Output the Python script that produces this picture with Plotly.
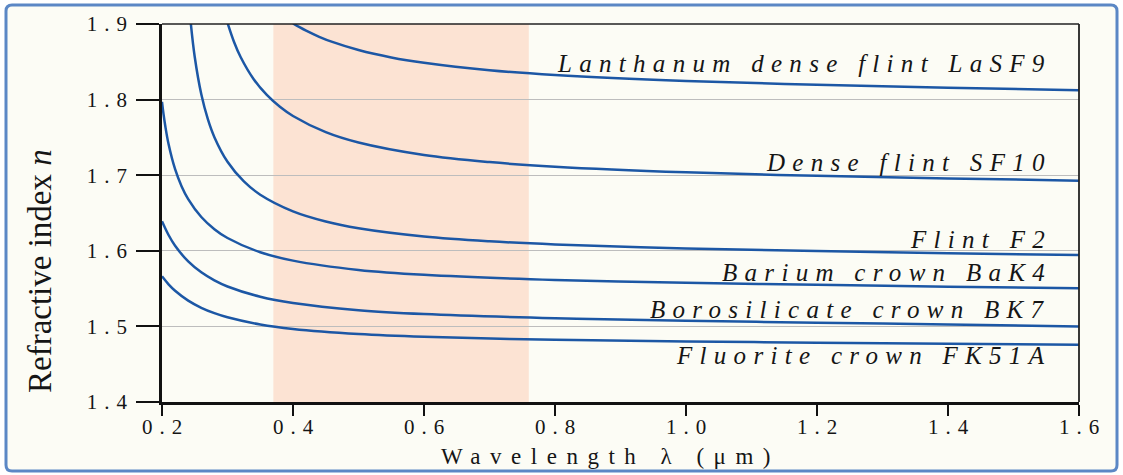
import plotly.graph_objects as go

# ---------------- data ----------------
glass_names = ["Lanthanum dense flint LaSF9", "Dense flint SF10", "Flint F2",
               "Barium crown BaK4", "Borosilicate crown BK7", "Fluorite crown FK51A"]

wl_lasf9 = [0.40, 0.41, 0.42, 0.44, 0.46, 0.50, 0.55, 0.60, 0.70, 0.80, 1.00, 1.20, 1.40, 1.60]
n_lasf9 = [1.9009, 1.8958, 1.8912, 1.8831, 1.8763, 1.8656, 1.8558, 1.8487, 1.8388, 1.8325,
           1.8246, 1.8196, 1.8158, 1.8125]

wl_sf10 = [0.30, 0.31, 0.32, 0.34, 0.36, 0.38, 0.40, 0.45, 0.50, 0.60, 0.70, 0.80, 1.00, 1.20, 1.40, 1.60]
n_sf10 = [1.9016, 1.8762, 1.8563, 1.8269, 1.8061, 1.7905, 1.7783, 1.7569, 1.7432, 1.7267,
          1.7173, 1.7112, 1.7038, 1.6992, 1.6958, 1.6928]

wl_f2 = [0.244, 0.25, 0.26, 0.27, 0.28, 0.30, 0.325, 0.35, 0.40, 0.45, 0.50, 0.60, 0.70, 0.80,
         1.00, 1.20, 1.40, 1.60]
n_f2 = [1.9006, 1.8563, 1.8070, 1.7741, 1.7503, 1.7177, 1.6917, 1.6742, 1.6522, 1.6388,
        1.6299, 1.6190, 1.6126, 1.6084, 1.6031, 1.5996, 1.5968, 1.5943]

wl_bak4 = [0.20, 0.2025, 0.205, 0.21, 0.22, 0.23, 0.24, 0.26, 0.28, 0.30, 0.35, 0.40, 0.50,
           0.60, 0.80, 1.00, 1.20, 1.40, 1.60]
n_bak4 = [1.7971, 1.7797, 1.7650, 1.7413, 1.7080, 1.6852, 1.6684, 1.6447, 1.6286, 1.6169,
          1.5981, 1.5870, 1.5747, 1.5682, 1.5615, 1.5578, 1.5550, 1.5526, 1.5503]

wl_bk7 = [0.20, 0.21, 0.22, 0.24, 0.26, 0.28, 0.30, 0.35, 0.40, 0.50, 0.60, 0.80, 1.00, 1.20, 1.40, 1.60]
n_bk7 = [1.6391, 1.6209, 1.6067, 1.5859, 1.5715, 1.5609, 1.5528, 1.5392, 1.5309, 1.5214,
         1.5163, 1.5108, 1.5075, 1.5049, 1.5025, 1.5000]

wl_fk51a = [0.20, 0.21, 0.22, 0.24, 0.26, 0.28, 0.30, 0.35, 0.40, 0.50, 0.60, 0.80, 1.00, 1.20, 1.40, 1.60]
n_fk51a = [1.5663, 1.5557, 1.5472, 1.5341, 1.5246, 1.5175, 1.5120, 1.5025, 1.4966, 1.4899,
           1.4862, 1.4823, 1.4801, 1.4785, 1.4770, 1.4756]

visible_band = [0.37, 0.76]

x_tickvals = [0.2, 0.4, 0.6, 0.8, 1.0, 1.2, 1.4, 1.6]
x_ticklabels = ["0.2", "0.4", "0.6", "0.8", "1.0", "1.2", "1.4", "1.6"]
y_tickvals = [1.4, 1.5, 1.6, 1.7, 1.8, 1.9]
y_ticklabels = ["1.4", "1.5", "1.6", "1.7", "1.8", "1.9"]

x_title = "Wavelength λ (μm)"
y_title = "Refractive index <i>n</i>"

# ---------------- layout helpers ----------------
W, H = 1123, 475
ML, MR, MT, MB = 162, 44, 24, 73
PW = W - ML - MR
PH = H - MT - MB


def px_x(px):
    return (px - ML) / PW


def px_y(py):
    return (H - MB - py) / PH


def spaced(s, sp):
    return f'<span style="letter-spacing:{sp}px">{s[:-1]}</span>{s[-1]}'


FONT = "Liberation Serif"
LINE_COL = "#1c57a5"
TXT = "#151515"

fig = go.Figure()

series = [(wl_lasf9, n_lasf9), (wl_sf10, n_sf10), (wl_f2, n_f2),
          (wl_bak4, n_bak4), (wl_bk7, n_bk7), (wl_fk51a, n_fk51a)]
for name, (xs, ys) in zip(glass_names, series):
    fig.add_trace(go.Scatter(x=xs, y=ys, mode="lines", name=name,
                             line=dict(color=LINE_COL, width=2.5, shape="spline", smoothing=1.0),
                             showlegend=False, hoverinfo="skip"))

# outer rounded frame
x0, x1 = px_x(6), px_x(1117)
y0, y1 = px_y(471), px_y(5)
rx, ry = 6 / PW, 6 / PH
path = (f"M {x0+rx},{y1} L {x1-rx},{y1} Q {x1},{y1} {x1},{y1-ry} L {x1},{y0+ry} "
        f"Q {x1},{y0} {x1-rx},{y0} L {x0+rx},{y0} Q {x0},{y0} {x0},{y0+ry} "
        f"L {x0},{y1-ry} Q {x0},{y1} {x0+rx},{y1} Z")
fig.add_shape(type="path", path=path, xref="paper", yref="paper", layer="below",
              fillcolor="#fcfcf5", line=dict(color="#5b87c5", width=3))

# visible band
fig.add_vrect(x0=visible_band[0], x1=visible_band[1], fillcolor="#fce3d3", opacity=1,
              line_width=0, layer="below")

# top and right frame lines (thinner)
fig.add_shape(type="line", xref="paper", yref="paper", x0=0, x1=1, y0=1, y1=1,
              line=dict(color="#222222", width=1.5), layer="above")
fig.add_shape(type="line", xref="paper", yref="paper", x0=1, x1=1, y0=0, y1=1,
              line=dict(color="#222222", width=1.8), layer="above")

# curve labels
label_pos = [63.5, 162.5, 239.5, 272, 309, 355]
for name, py in zip(glass_names, label_pos):
    fig.add_annotation(x=px_x(1047), y=px_y(py), xref="paper", yref="paper",
                       xanchor="right", yanchor="middle", showarrow=False,
                       text=spaced(name, 7.3),
                       font=dict(family=FONT, size=25, color=TXT, style="italic"))

# y title
fig.add_annotation(x=px_x(40), y=px_y(271), xref="paper", yref="paper",
                   xanchor="center", yanchor="middle", showarrow=False, textangle=-90,
                   text=y_title, font=dict(family=FONT, size=33, color=TXT))

# x title
fig.add_annotation(x=px_x(605), y=px_y(456), xref="paper", yref="paper",
                   xanchor="center", yanchor="middle", showarrow=False,
                   text=spaced(x_title, 9.5), font=dict(family=FONT, size=23, color=TXT))

fig.update_xaxes(range=[0.2, 1.6], tickvals=x_tickvals,
                 ticktext=[spaced(t, 7) for t in x_ticklabels],
                 ticks="outside", ticklen=11, tickwidth=2, tickcolor="#111111",
                 ticklabelstandoff=-7,
                 showline=True, linewidth=2.5, linecolor="#111111",
                 showgrid=False, zeroline=False,
                 tickfont=dict(family=FONT, size=21, color=TXT))
fig.update_yaxes(range=[1.4, 1.9], tickvals=y_tickvals,
                 ticktext=[spaced(t, 7) for t in y_ticklabels],
                 ticks="outside", ticklen=23, tickwidth=2, tickcolor="#111111",
                 ticklabelstandoff=5,
                 showline=True, linewidth=2.5, linecolor="#111111",
                 showgrid=True, gridcolor="#bdbdbd", gridwidth=1.3, zeroline=False,
                 tickfont=dict(family=FONT, size=21, color=TXT))

fig.update_layout(width=W, height=H, margin=dict(l=ML, r=MR, t=MT, b=MB),
                  paper_bgcolor="#ffffff", plot_bgcolor="rgba(0,0,0,0)",
                  showlegend=False)

fig.write_html("out.html", config={"displayModeBar": False},
               post_script="document.body.style.margin='0';document.body.style.overflow='hidden';")
